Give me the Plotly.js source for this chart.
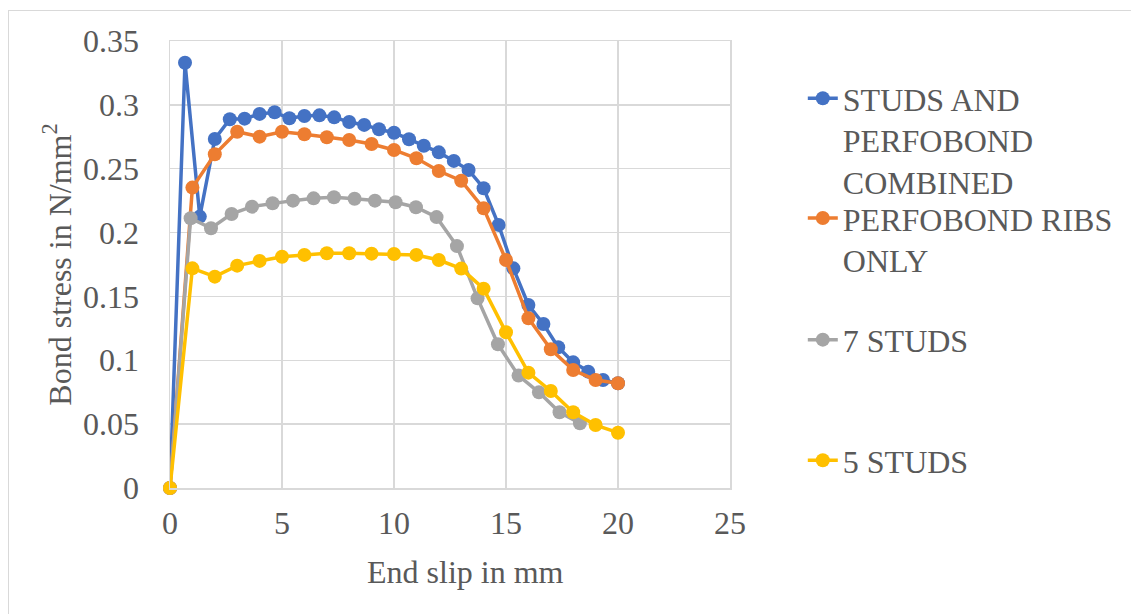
<!DOCTYPE html>
<html><head><meta charset="utf-8">
<script src="https://cdn.plot.ly/plotly-3.0.1.min.js"></script>
<style>
html,body{margin:0;padding:0;background:#fff;}
#frame{position:absolute;left:8px;top:10px;width:1140px;height:640px;border:1.5px solid #d9d9d9;box-sizing:border-box;}
#chart{position:absolute;left:0;top:0;width:1131px;height:614px;}
</style></head><body>
<div id="frame"></div>
<div id="chart"></div>
<script>
const seriesNames = ["STUDS AND<br>PERFOBOND<br>COMBINED", "PERFOBOND RIBS<br>ONLY", "7 STUDS", "5 STUDS"];
const blueX = [0,0.67,1.33,2,2.67,3.33,4,4.67,5.33,6,6.67,7.33,8,8.67,9.33,10,10.67,11.33,12,12.67,13.33,14,14.67,15.33,16,16.67,17.33,18,18.67,19.33,20];
const blueY = [0,0.333,0.2125,0.2733,0.2887,0.2892,0.2929,0.2942,0.2895,0.2913,0.2918,0.2902,0.2866,0.2843,0.2809,0.2782,0.2731,0.268,0.2628,0.2561,0.249,0.2347,0.206,0.172,0.1433,0.1284,0.1102,0.0984,0.0911,0.0846,0.082];
const orangeX = [0,1,2,3,4,5,6,7,8,9,10,11,12,13,14,15,16,17,18,19,20];
const orangeY = [0,0.2352,0.2613,0.279,0.2751,0.279,0.277,0.2746,0.2725,0.2694,0.2647,0.2582,0.2482,0.2406,0.219,0.1785,0.1329,0.1086,0.0924,0.0846,0.082];
const grayX = [0,0.92,1.83,2.75,3.66,4.58,5.49,6.41,7.32,8.24,9.15,10.07,10.98,11.9,12.81,13.73,14.64,15.56,16.47,17.39,18.3];
const grayY = [0,0.2112,0.2034,0.2146,0.2203,0.2229,0.225,0.2268,0.2276,0.2265,0.225,0.2237,0.2198,0.2121,0.1894,0.1485,0.1125,0.088,0.0749,0.0593,0.0507];
const yellowX = [0,1,2,3,4,5,6,7,8,9,10,11,12,13,14,15,16,17,18,19,20];
const yellowY = [0,0.172,0.1655,0.1741,0.1778,0.1811,0.1825,0.1838,0.1838,0.1835,0.1832,0.1825,0.1785,0.1718,0.1561,0.1219,0.0903,0.076,0.0593,0.0493,0.0433];
const xTitle = "End slip in mm";
const yTitle = "Bond stress in N/mm<sup>2</sup>";

const colors = ["#4472C4", "#ED7D31", "#A5A5A5", "#FFC000"];
const xs = [blueX, orangeX, grayX, yellowX];
const ys = [blueY, orangeY, grayY, yellowY];
const legendIds = ["legend", "legend2", "legend3", "legend4"];

const FONT = "Liberation Serif, Times New Roman, serif";
const TXT = "#595959";
const FS = 32;

const traces = xs.map((x, i) => ({
  type: "scatter", mode: "lines+markers",
  x: x, y: ys[i], name: seriesNames[i],
  line: {color: colors[i], width: 3.5},
  marker: {color: colors[i], size: 14},
  cliponaxis: false,
  legend: legendIds[i]
}));

const legTops = [0.933, 0.665, 0.393, 0.123];
function leg(y) {
  return {x: 1.13, xanchor: "left", y: y, yanchor: "top", valign: "top",
    bgcolor: "rgba(0,0,0,0)", font: {family: FONT, size: FS, color: TXT}};
}

const layout = {
  width: 1131, height: 614,
  margin: {l: 170, r: 401, t: 41, b: 126},
  paper_bgcolor: "rgba(0,0,0,0)", plot_bgcolor: "rgba(0,0,0,0)",
  showlegend: true,
  legend: leg(legTops[0]), legend2: leg(legTops[1]), legend3: leg(legTops[2]), legend4: leg(legTops[3]),
  xaxis: {
    range: [0, 25], tick0: 0, dtick: 5, showgrid: true, gridcolor: "#d9d9d9", gridwidth: 1.5,
    showline: true, mirror: true, linecolor: "#d9d9d9", linewidth: 1.5, zeroline: false,
    ticks: "", ticklabelstandoff: 6,
    tickfont: {family: FONT, size: FS, color: TXT}
  },
  yaxis: {
    range: [0, 0.35], tick0: 0, dtick: 0.05, showgrid: true, gridcolor: "#d9d9d9", gridwidth: 1.5,
    showline: true, mirror: true, linecolor: "#d9d9d9", linewidth: 1.5, zeroline: false,
    ticks: "", ticklabelstandoff: 23,
    tickfont: {family: FONT, size: FS, color: TXT},
    title: {text: yTitle, font: {family: FONT, size: FS, color: TXT}, standoff: 2}
  },
  annotations: [{
    text: xTitle, xref: "paper", yref: "paper", x: 0.527, y: -0.188,
    xanchor: "center", yanchor: "middle", showarrow: false,
    font: {family: FONT, size: FS, color: TXT}
  }]
};

Plotly.newPlot("chart", traces, layout, {displayModeBar: false, staticPlot: true});
</script>
</body></html>
